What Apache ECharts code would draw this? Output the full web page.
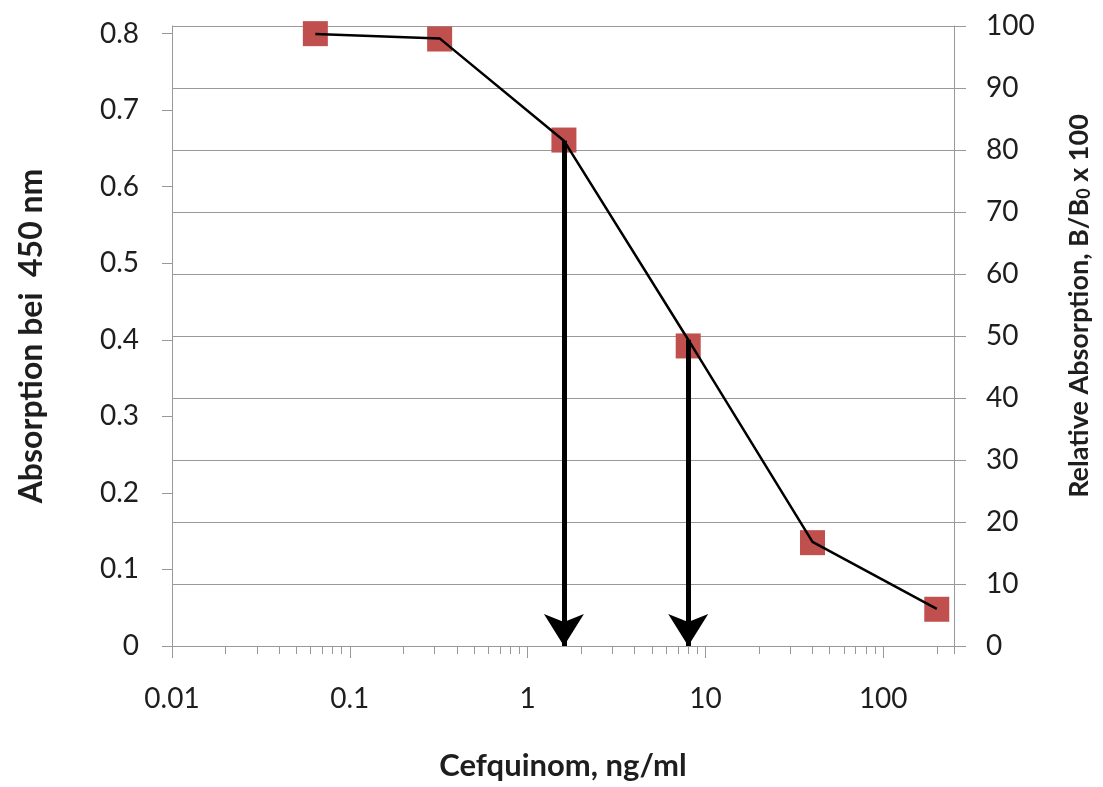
<!DOCTYPE html>
<html>
<head>
<meta charset="utf-8">
<script src="https://cdn.jsdelivr.net/npm/echarts@6/dist/echarts.min.js"></script>
<style>
  html, body { margin: 0; padding: 0; background: #fff; }
  #main { width: 1103px; height: 787px; }
</style>
</head>
<body>
<div id="main"></div>
<script>
// Cefquinom concentration, ng/ml
var conc = [0.064, 0.32, 1.6, 8, 40, 200];
// absorption at 450 nm (left axis, squares)
var absorption = [0.800, 0.793, 0.661, 0.392, 0.135, 0.048];
// relative absorption B/B0 x 100 (right axis, black line)
var relative = [98.7, 98.0, 81.5, 49.4, 16.8, 6.0];
// points marked with an arrow down to the x axis
var arrowIdx = [2, 3];

var xMin = 0.01, xMax = 250;
var xLabels = [0.01, 0.1, 1, 10, 100];
var xMinorTicks = [0.02, 0.03, 0.04, 0.05, 0.06, 0.07, 0.08, 0.09,
  0.2, 0.3, 0.4, 0.5, 0.6, 0.7, 0.8, 0.9,
  2, 3, 4, 5, 6, 7, 8, 9,
  20, 30, 40, 50, 60, 70, 80, 90,
  200, 250];
var leftTicks = [0, 0.1, 0.2, 0.3, 0.4, 0.5, 0.6, 0.7, 0.8];

var font = 'Lato';
var axisGray = '#999';
var textColor = '#1e1e1e';

var chart = echarts.init(document.getElementById('main'));

chart.setOption({
  animation: false,
  grid: { left: 172, right: 149, top: 26, bottom: 141, outerBoundsMode: 'none' },
  xAxis: [
    {
      type: 'log', logBase: 10, min: xMin, max: xMax, position: 'bottom',
      name: 'Cefquinom, ng/ml', nameLocation: 'middle', nameGap: 104,
      nameTextStyle: { fontFamily: font, fontSize: 31, fontWeight: 'bold', color: textColor },
      axisLine: { onZero: false, lineStyle: { color: axisGray, width: 1 } },
      axisTick: { customValues: xLabels, length: 12, lineStyle: { color: axisGray } },
      axisLabel: { customValues: xLabels, margin: 39, fontFamily: font, fontSize: 28, color: textColor },
      splitLine: { show: false }
    },
    {
      type: 'log', logBase: 10, min: xMin, max: xMax, position: 'bottom',
      axisLine: { show: false, onZero: false },
      axisTick: { customValues: xMinorTicks, length: 8, lineStyle: { color: axisGray } },
      axisLabel: { show: false },
      splitLine: { show: false }
    }
  ],
  yAxis: [
    {
      type: 'value', min: 0, max: 0.81, position: 'left',
      name: 'Absorption bei  450 nm', nameLocation: 'middle', nameGap: 124, nameRotate: 90,
      nameTextStyle: { fontFamily: font, fontSize: 32, fontWeight: 'bold', color: textColor },
      axisLine: { show: true, lineStyle: { color: axisGray } },
      axisTick: { show: true, customValues: leftTicks, length: 10, lineStyle: { color: axisGray } },
      axisLabel: { customValues: leftTicks, margin: 33, fontFamily: font, fontSize: 28, color: textColor },
      splitLine: { show: false }
    },
    {
      type: 'value', min: 0, max: 100, interval: 10, position: 'right',
      name: '{a|Relative Absorption, B/B}{s|0}{a| x 100}',
      nameLocation: 'middle', nameGap: 112, nameRotate: 90,
      nameTextStyle: {
        padding: [0, 0, 0, 60],
        rich: {
          a: { fontFamily: font, fontSize: 27, fontWeight: 'bold', color: textColor },
          s: { fontFamily: font, fontSize: 18, fontWeight: 'bold', color: textColor, verticalAlign: 'bottom' }
        }
      },
      axisLine: { show: true, lineStyle: { color: axisGray } },
      axisTick: { show: true, length: 12, lineStyle: { color: axisGray } },
      axisLabel: { margin: 32, fontFamily: font, fontSize: 28, color: textColor },
      splitLine: { show: true, lineStyle: { color: axisGray, width: 1 } }
    }
  ],
  series: [
    {
      name: 'Absorption',
      type: 'scatter',
      xAxisIndex: 0, yAxisIndex: 0,
      symbol: 'rect', symbolSize: 25,
      itemStyle: { color: '#c0504d', opacity: 1 },
      data: conc.map(function (c, i) { return [c, absorption[i]]; }),
      z: 2
    },
    {
      name: 'Relative',
      type: 'line',
      xAxisIndex: 0, yAxisIndex: 1,
      showSymbol: false, symbol: 'none',
      lineStyle: { color: '#000', width: 2.5 },
      data: conc.map(function (c, i) { return [c, relative[i]]; }),
      z: 3,
      markLine: {
        silent: true,
        symbol: ['none', 'arrow'],
        symbolSize: [30, 32],
        label: { show: false },
        lineStyle: { color: '#000', width: 5, type: 'solid', opacity: 1 },
        itemStyle: { color: '#000' },
        data: arrowIdx.map(function (i) {
          return [{ coord: [conc[i], relative[i]] }, { coord: [conc[i], 0] }];
        })
      }
    }
  ]
});
</script>
</body>
</html>
